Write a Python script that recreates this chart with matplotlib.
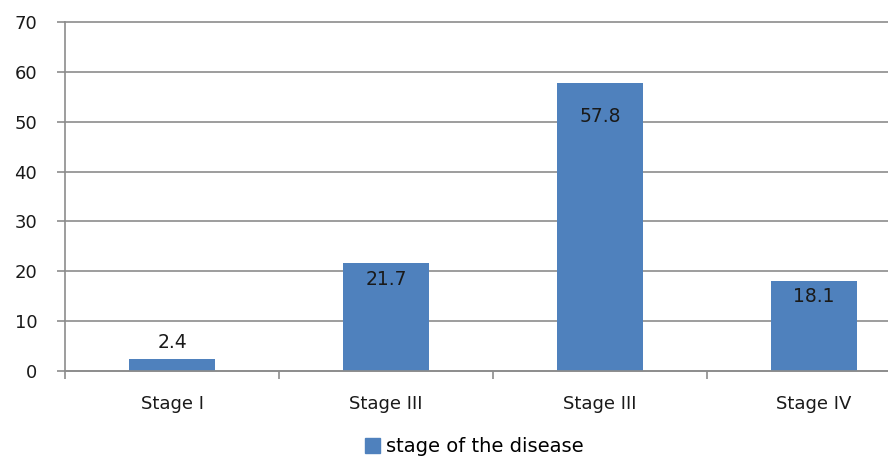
import matplotlib.pyplot as plt
from matplotlib.patches import Patch
import numpy as np

# data
categories = ['Stage I', 'Stage III', 'Stage III', 'Stage IV']
values = [2.4, 21.7, 57.8, 18.1]
series_name = 'stage of the disease'
yticks = [0, 10, 20, 30, 40, 50, 60, 70]

bar_color = '#4F81BD'
grid_color = '#8C8C8C'
text_color = '#1A1A1A'

fig = plt.figure(figsize=(8.88, 4.57), dpi=100)
ax = fig.add_axes([0.0732, 0.188, 0.964, 0.764])

x = np.arange(len(categories))
ax.bar(x, values, width=0.4, color=bar_color, zorder=3)

# labels: first one sits above the bar, others inside near the top
offsets = [17, -17, -34, -16]
for xi, v, off in zip(x, values, offsets):
    ax.annotate(f'{v}', (xi, v), xytext=(0, off), textcoords='offset pixels',
                ha='center', va='center', fontsize=13.5, color=text_color, zorder=4)

ax.set_xlim(-0.5, len(categories) - 0.5)
ax.set_ylim(0, 70)
ax.set_yticks(yticks)
ax.yaxis.grid(True, color=grid_color, linewidth=1.2, zorder=0)
for gl in ax.get_ygridlines():
    gl.set_clip_on(False)

ax.set_xticks(x)
ax.set_xticklabels(categories)
ax.set_xticks(np.arange(len(categories) + 1) - 0.5, minor=True)
ax.tick_params(axis='x', which='major', length=0, pad=17, labelsize=13, labelcolor=text_color)
ax.tick_params(axis='x', which='minor', length=6, width=1.2, color=grid_color, direction='out')
ax.tick_params(axis='y', length=6, width=1.2, color=grid_color, pad=14, labelsize=13, labelcolor=text_color)

for side in ['top', 'right']:
    ax.spines[side].set_visible(False)
for side in ['left', 'bottom']:
    ax.spines[side].set_color(grid_color)
    ax.spines[side].set_linewidth(1.2)
    ax.spines[side].set_zorder(5)

fig.legend(handles=[Patch(color=bar_color, label=series_name)], loc='center',
           bbox_to_anchor=(0.534, 0.022), frameon=False, fontsize=14,
           handlelength=0.8, handleheight=0.8, handletextpad=0.3)

fig.savefig('out.png', dpi=100)
